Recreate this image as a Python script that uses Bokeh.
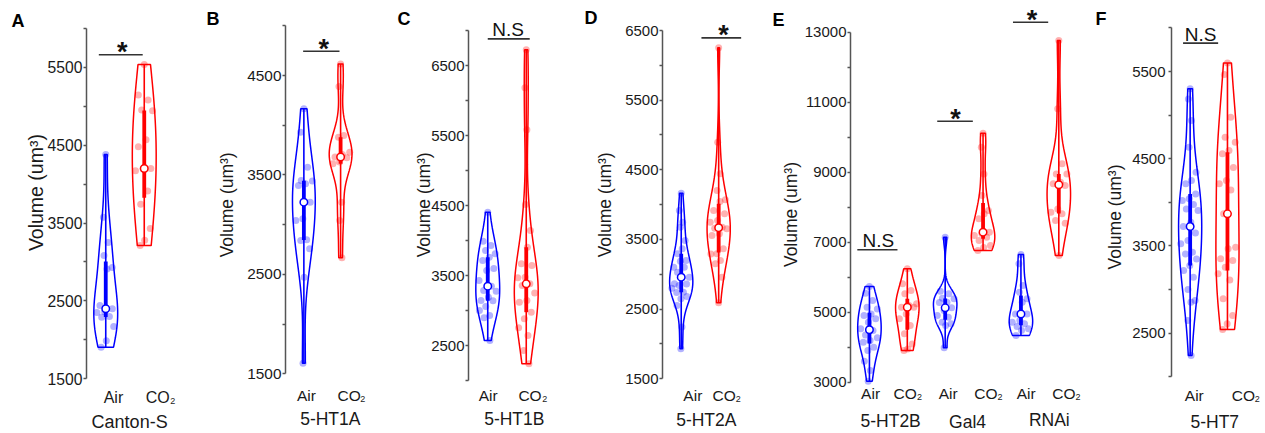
import numpy as np
from bokeh.plotting import figure
from bokeh.layouts import row
from bokeh.models import Range1d, LinearAxis, FixedTicker, CustomJSTickFormatter
from bokeh.core.properties import value
from bokeh.embed import file_html
from bokeh.resources import INLINE

FONT = "Liberation Sans"
BLUE = "#0000ff"
RED = "#ff0000"
AXC = "#555555"
TXT = "#1a1a1a"
NBSP = "\u00a0"

# ---------------- data: volume (um^3) ----------------
canton_air = [4379, 3575, 3250, 3083, 2930, 2910, 2440, 2400, 2360, 2350, 2300, 2290, 2170, 1990, 1906]
canton_co2 = [5534, 5145, 5080, 4950, 4940, 4570, 4480, 4200, 4195, 4170, 3910, 3740, 3430, 3280, 3210]
ht1a_air = [4165, 3930, 3578, 3444, 3440, 3411, 3394, 3226, 3059, 3042, 2848, 2841, 2757, 2472, 1607]
ht1a_co2 = [4617, 4389, 3897, 3880, 3729, 3706, 3680, 3672, 3629, 3612, 3226, 3042, 2667]
ht1b_air = [4405, 3990, 3930, 3857, 3810, 3762, 3714, 3600, 3571, 3429, 3348, 3286, 3276, 3190, 3143,
            3140, 3057, 3000, 2929, 2895, 2571]
ht1b_co2 = [6724, 6181, 5581, 4514, 4143, 3905, 3667, 3643, 3476, 3467, 3381, 3357, 3250, 3143, 3119,
            2976, 2881, 2752, 2643, 2429, 2238]
ht2a_air = [4165, 3916, 3749, 3677, 3486, 3366, 3294, 3199, 3189, 3103, 3100, 3031, 2959, 2950, 2864,
            2860, 2840, 2800, 2744, 2740, 2680, 2648, 2553, 2242, 1931]
ht2a_co2 = [6252, 4897, 4443, 4203, 4070, 4046, 3916, 3869, 3773, 3749, 3677, 3663, 3653, 3581, 3557,
            3366, 3294, 3290, 3199, 3151, 2959, 2591]
ht2b_air = [5733, 5543, 5333, 5143, 5095, 4952, 4905, 4810, 4714, 4524, 4476, 4350, 4267, 4190, 4143,
            4000, 3905, 3600, 3333, 3029]
ht2b_co2 = [6238, 5810, 5619, 5524, 5238, 5190, 5143, 5140, 4952, 4810, 4619, 4381, 4095, 3952, 3905]
gal4_air = [7143, 5600, 5524, 5400, 5381, 5286, 5280, 5124, 5048, 4905, 4857, 4714, 4667, 4619, 3981]
gal4_co2 = [10114, 9714, 8952, 8333, 7905, 7810, 7667, 7286, 7238, 7190, 7143, 7048, 6905, 6850, 6762]
rnai_air = [6648, 6381, 5762, 5571, 5381, 5286, 4952, 4950, 4762, 4714, 4667, 4590, 4524, 4476, 4333]
rnai_co2 = [12762, 10810, 9238, 8952, 8950, 8714, 8667, 8619, 7952, 7857, 7810, 7619, 7543, 6619]
ht7_air = [5301, 5186, 4938, 4632, 4345, 4250, 4212, 4097, 4040, 4021, 3975, 3925, 3906, 3772, 3723,
           3650, 3562, 3524, 3429, 3409, 3350, 3276, 3218, 3142, 3000, 2874, 2855, 2645, 2244]
ht7_co2 = [5599, 5465, 4976, 4747, 4689, 4594, 4556, 4400, 4250, 4212, 4143, 3868, 3486, 3467, 3352,
           3333, 3257, 3180, 3111, 2894, 2703, 2607, 2542]

condition_labels = ["Air", "CO"]
y_label = "Volume (um³)"

# significance annotations: (x_start, x_end, bar_value, text, text_x)
sig_A = [(0.32, 1.46, 5660, "*", 0.93)]
sig_B = [(0.48, 1.47, 4744, "*", 1.04)]
sig_C = [(0.50, 1.59, 6881, "N.S", 1.03)]
sig_D = [(1.04, 2.10, 6394, "*", 1.63)]
sig_E = [(0.18, 1.24, 6783, "N.S", 0.735), (2.29, 3.23, 10457, "*", 2.77), (4.29, 5.22, 13286, "*", 4.79)]
sig_F = [(0.31, 1.25, 5825, "N.S", 0.78)]

# ---------------- layout ----------------
UNIT = 38.5      # px per category slot
HALF_W = 0.31    # violin half width (slots)
H = 433

panels = [
    dict(letter="A", width=203, left=86, lo=1500, hi=6000, ylo=378.3, yhi=27.8,
         majors=[1500, 2500, 3500, 4500, 5500], minors=[2000, 3000, 4000, 5000, 6000],
         series=[canton_air, canton_co2], groups=[("Canton-S", 1.12, 421.7)], cat_x=[0.70, 1.92],
         cat_y=396.7, sig=sig_A, tick_fs=15.7, axl_fs=19.5, cat_fs=16, grp_fs=18,
         mls=1, als=-2, lab_pad=9, let_y=20, let_so=-3),
    dict(letter="B", width=186, left=77, lo=1500, hi=5000, ylo=373.3, yhi=25.3,
         majors=[1500, 2500, 3500, 4500], minors=[2000, 3000, 4000, 5000],
         series=[ht1a_air, ht1a_co2], groups=[("5-HT1A", 1.22, 418.7)], cat_x=[0.57, 1.79],
         cat_y=395, sig=sig_B, tick_fs=15.4, axl_fs=17.5, cat_fs=15.5, grp_fs=17.5,
         mls=1, als=7, lab_pad=5, let_y=18.5, let_so=-5),
    dict(letter="C", width=192, left=79, lo=2000, hi=7000, ylo=380.0, yhi=30.0,
         majors=[2500, 3500, 4500, 5500, 6500], minors=[2000, 3000, 4000, 5000, 6000, 7000],
         series=[ht1b_air, ht1b_co2], groups=[("5-HT1B", 1.19, 418.7)], cat_x=[0.51, 1.67],
         cat_y=395, sig=sig_C, tick_fs=15, axl_fs=17.5, cat_fs=15.5, grp_fs=17.5,
         mls=1, als=-6, lab_pad=5, let_y=18.5, let_so=1),
    dict(letter="D", width=188, left=78, lo=1500, hi=6500, ylo=378.3, yhi=30.0,
         majors=[1500, 2500, 3500, 4500, 5500, 6500], minors=[2000, 3000, 4000, 5000, 6000],
         series=[ht2a_air, ht2a_co2], groups=[("5-HT2A", 1.17, 419)], cat_x=[0.81, 1.71],
         cat_y=395, sig=sig_D, tick_fs=15, axl_fs=17.5, cat_fs=15.5, grp_fs=17.5,
         mls=1, als=7, lab_pad=5, let_y=17.5, let_so=-5),
    dict(letter="E", width=323, left=77, lo=3000, hi=13000, ylo=381.7, yhi=31.7,
         majors=[3000, 5000, 7000, 9000, 11000, 13000], minors=[4000, 6000, 8000, 10000, 12000],
         series=[ht2b_air, ht2b_co2, gal4_air, gal4_co2, rnai_air, rnai_co2],
         groups=[("5-HT2B", 1.06, 420), ("Gal4", 3.09, 421.5), ("RNAi", 5.25, 419.5)],
         cat_x=[0.53, 1.51, 2.58, 3.64, 4.64, 5.70],
         cat_y=393, sig=sig_E, tick_fs=15, axl_fs=17.5, cat_fs=15.5, grp_fs=17.5,
         mls=1, als=1, lab_pad=1, let_y=19, let_so=-7),
    dict(letter="F", width=173, left=76, lo=2000, hi=6000, ylo=376.3, yhi=27.4,
         majors=[2500, 3500, 4500, 5500], minors=[2000, 3000, 4000, 5000, 6000],
         series=[ht7_air, ht7_co2], groups=[("5-HT7", 1.16, 421.5)], cat_x=[0.61, 1.99],
         cat_y=395, sig=sig_F, tick_fs=15, axl_fs=17.5, cat_fs=15.5, grp_fs=17.5,
         mls=3, als=4, lab_pad=0, let_y=18.5, let_so=-4),
]


def kde(d, grid):
    n = len(d)
    sig = np.median(np.abs(d - np.median(d))) / 0.6745
    bw = sig * (4.0 / (3.0 * n)) ** 0.2
    z = (grid[:, None] - d[None, :]) / bw
    return np.exp(-0.5 * z * z).sum(axis=1) / (n * bw * np.sqrt(2 * np.pi))


def violin(p, pos, data, color):
    d = np.asarray(data, float)
    g = np.linspace(d.min(), d.max(), 240)
    dens = kde(d, g)
    half = dens / dens.max() * HALF_W
    xs = np.concatenate([pos + half, (pos - half)[::-1]])
    ys = np.concatenate([g, g[::-1]])
    w = np.interp(d, g, half)
    u = ((np.arange(len(d)) * 0.618034 + 0.5) % 1.0) * 2 - 1
    p.scatter(pos + u * w * 0.85, d, size=7, fill_color=color, fill_alpha=0.3, line_color=None)
    p.patch(xs, ys, fill_color=None, line_color=color, line_width=1.5)
    q1, med, q3 = np.percentile(d, [25, 50, 75])
    p.segment([pos], [d.min()], [pos], [d.max()], line_color=color, line_width=1.6)
    p.segment([pos], [q1], [pos], [q3], line_color=color, line_width=3.8)
    p.scatter([pos], [med], size=7.5, fill_color="white", line_color=color, line_width=1.5)


def ctext(p, xs, ys, texts, size, bold=False, align="center", color=TXT):
    p.text(x=xs, y=ys, text=texts, text_font=value(FONT), text_font_size=f"{size}px",
           text_font_style="bold" if bold else "normal", text_color=color,
           text_align=align, text_baseline="middle")


def make_panel(P):
    W, L = P["width"], P["left"]
    s = (P["ylo"] - P["yhi"]) / (P["hi"] - P["lo"])

    def yv(py):
        return P["lo"] + (P["ylo"] - py) / s

    fw = W - L
    p = figure(width=W, height=H, x_range=Range1d(0, fw / UNIT), y_range=Range1d(yv(H), yv(0)),
               output_backend="svg", toolbar_location=None, x_axis_location=None, y_axis_location=None,
               min_border_left=L, min_border_right=0, min_border_top=0, min_border_bottom=0)
    p.outline_line_color = None
    p.grid.visible = False

    ax = LinearAxis(bounds=(P["lo"], P["hi"]),
                    ticker=FixedTicker(ticks=P["majors"], minor_ticks=P["minors"]))
    # leading no-break spaces lift the rotated label to where the reference places it
    ax.axis_label = NBSP * P["lab_pad"] + y_label
    ax.axis_line_color = AXC
    ax.axis_line_width = 1.5
    ax.major_tick_line_color = AXC
    ax.major_tick_line_width = 1.5
    ax.major_tick_in = 0
    ax.major_tick_out = 3
    ax.minor_tick_line_color = AXC
    ax.minor_tick_line_width = 1.5
    ax.minor_tick_in = 0
    ax.minor_tick_out = 3
    ax.major_label_text_font = FONT
    ax.major_label_text_font_size = f"{P['tick_fs']}px"
    ax.major_label_text_color = TXT
    ax.major_label_standoff = P["mls"]
    ax.axis_label_text_font = FONT
    ax.axis_label_text_font_size = f"{P['axl_fs']}px"
    ax.axis_label_text_font_style = "normal"
    ax.axis_label_text_color = TXT
    ax.axis_label_standoff = P["als"]
    p.add_layout(ax, "left")

    # panel letter, drawn as the single label of an outer, line-less axis
    lax = LinearAxis(ticker=FixedTicker(ticks=[yv(P["let_y"])], minor_ticks=[]),
                     formatter=CustomJSTickFormatter(code=f"return '{P['letter']}';"))
    lax.axis_line_color = None
    lax.major_tick_line_color = None
    lax.minor_tick_line_color = None
    lax.major_tick_in = 0
    lax.major_tick_out = 0
    lax.major_label_standoff = P["let_so"]
    lax.major_label_text_font = FONT
    lax.major_label_text_font_size = "18px"
    lax.major_label_text_font_style = "bold"
    lax.major_label_text_color = "black"
    p.add_layout(lax, "left")

    # violins
    for i, data in enumerate(P["series"]):
        violin(p, i + 0.5, data, BLUE if i % 2 == 0 else RED)

    # condition labels
    cat_fs = P["cat_fs"]
    cy = yv(P["cat_y"])
    air_x = [x for i, x in enumerate(P["cat_x"]) if i % 2 == 0]
    co_x = [x for i, x in enumerate(P["cat_x"]) if i % 2 == 1]
    ctext(p, air_x, [cy] * len(air_x), [condition_labels[0]] * len(air_x), cat_fs)
    co_w = 1.5 * cat_fs
    sub_fs = 9
    tot = co_w + 0.5 + 0.556 * sub_fs
    co_start = [x - tot / 2 / UNIT for x in co_x]
    ctext(p, co_start, [cy] * len(co_x), [condition_labels[1]] * len(co_x), cat_fs, align="left")
    ctext(p, [x + (co_w + 0.5) / UNIT for x in co_start], [yv(P["cat_y"] + 3.6)] * len(co_x),
          ["2"] * len(co_x), sub_fs, align="left")

    # group labels
    for name, gx, gy in P["groups"]:
        ctext(p, [gx], [yv(gy)], [name], P["grp_fs"])

    # significance
    for (x0, x1, yb, t, tx) in P["sig"]:
        p.segment([x0], [yb], [x1], [yb], line_color="#333333", line_width=1.6)
        if t == "*":
            ctext(p, [tx], [yb + 2.4 / s], [t], 27, bold=True, color="#111111")
        else:
            ctext(p, [tx], [yb + 9.0 / s], [t], 19, color="#111111")
    return p


layout = row(*[make_panel(P) for P in panels], spacing=0)
open("out.html", "w").write(file_html(layout, INLINE))
